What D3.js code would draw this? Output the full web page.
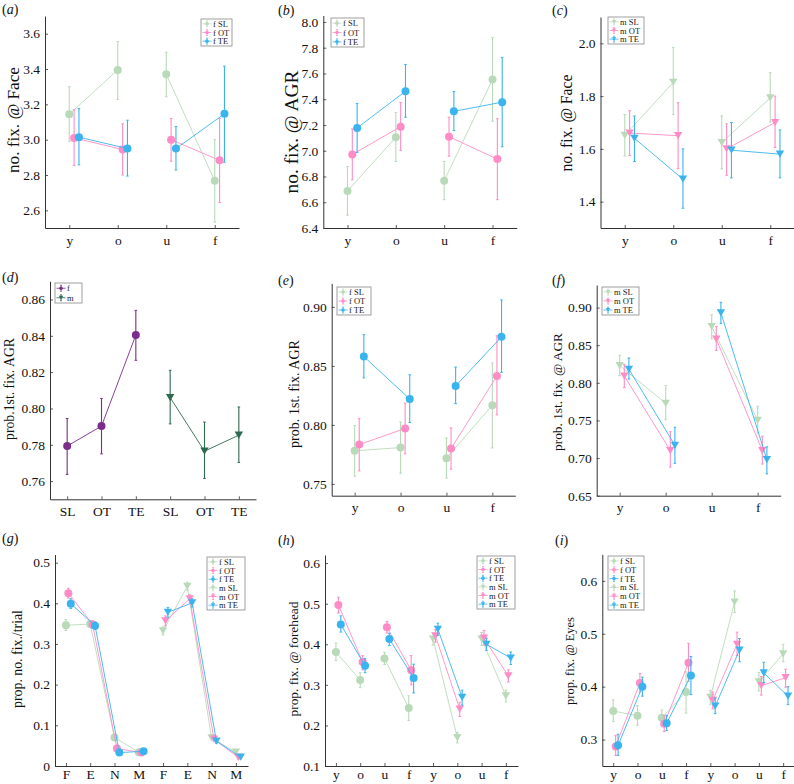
<!DOCTYPE html>
<html><head><meta charset="utf-8">
<script src="https://cdn.jsdelivr.net/npm/d3@7"></script>
<style>body{margin:0;background:#fff}svg{display:block}</style>
</head><body>
<svg id="chart" width="794" height="784"></svg>
<script>
// ---------- categories / tick labels ----------
const ageCats = ["y", "o", "u", "f"];
const grpCats = ["SL", "OT", "TE", "SL", "OT", "TE"];
const roiCats = ["F", "E", "N", "M", "F", "E", "N", "M"];
const age8Cats = ["y", "o", "u", "f", "y", "o", "u", "f"];

const aTicks = [2.6, 2.8, 3.0, 3.2, 3.4, 3.6];
const bTicks = [6.4, 6.6, 6.8, 7.0, 7.2, 7.4, 7.6, 7.8, 8.0];
const cTicks = [1.4, 1.6, 1.8, 2.0];
const dTicks = [0.76, 0.78, 0.80, 0.82, 0.84, 0.86];
const eTicks = [0.75, 0.80, 0.85, 0.90];
const fTicks = [0.65, 0.70, 0.75, 0.80, 0.85, 0.90];
const gTicks = [0, 0.1, 0.2, 0.3, 0.4, 0.5];
const hTicks = [0.1, 0.2, 0.3, 0.4, 0.5, 0.6];
const iTicks = [0.3, 0.4, 0.5, 0.6];

// ---------- values: [mean, lower, upper] ----------
const a_fSL = [[3.144, 2.99, 3.30], [3.395, 3.227, 3.556], [3.37, 3.243, 3.495], [2.767, 2.533, 3.0]];
const a_fOT = [[3.01, 2.853, 3.17], [2.944, 2.80, 3.09], [3.0, 2.878, 3.12], [2.883, 2.644, 3.12]];
const a_fTE = [[3.014, 2.857, 3.176], [2.95, 2.794, 3.11], [2.95, 2.828, 3.074], [3.146, 2.872, 3.416]];

const b_fSL = [[6.688, 6.50, 6.878], [7.104, 6.917, 7.296], [6.766, 6.62, 6.917], [7.553, 7.229, 7.878]];
const b_fOT = [[6.971, 6.774, 7.169], [7.187, 7.003, 7.374], [7.109, 6.958, 7.26], [6.935, 6.62, 7.249]];
const b_fTE = [[7.177, 6.987, 7.366], [7.462, 7.26, 7.67], [7.306, 7.156, 7.46], [7.377, 7.031, 7.725]];

const c_mSL = [[1.651, 1.573, 1.730], [1.852, 1.73, 1.985], [1.624, 1.524, 1.725], [1.793, 1.702, 1.889]];
const c_mOT = [[1.66, 1.575, 1.745], [1.65, 1.525, 1.775], [1.60, 1.50, 1.695], [1.70, 1.605, 1.80]];
const c_mTE = [[1.64, 1.552, 1.725], [1.485, 1.375, 1.60], [1.595, 1.49, 1.70], [1.58, 1.49, 1.672]];

const d_f = [[0.7793, 0.7637, 0.7945], [0.7903, 0.775, 0.8055], [0.8404, 0.8265, 0.854]];
const d_m = [[0.806, 0.7915, 0.821], [0.7765, 0.7615, 0.7925], [0.7853, 0.7703, 0.8008]];

const e_fSL = [[0.778, 0.7565, 0.7995], [0.7808, 0.759, 0.8025], [0.7718, 0.755, 0.789], [0.8167, 0.7805, 0.8525]];
const e_fOT = [[0.7833, 0.761, 0.8055], [0.797, 0.7755, 0.8185], [0.780, 0.7625, 0.7975], [0.8415, 0.8085, 0.8755]];
const e_fTE = [[0.8579, 0.8398, 0.8765], [0.822, 0.802, 0.8425], [0.833, 0.818, 0.849], [0.8746, 0.8445, 0.9059]];

const f_mSL = [[0.8229, 0.8095, 0.8365], [0.7728, 0.751, 0.7965], [0.8747, 0.8585, 0.8905], [0.7502, 0.733, 0.769]];
const f_mOT = [[0.8091, 0.7935, 0.8245], [0.710, 0.688, 0.735], [0.858, 0.843, 0.875], [0.710, 0.692, 0.729]];
const f_mTE = [[0.818, 0.805, 0.833], [0.717, 0.693, 0.741], [0.893, 0.879, 0.907], [0.698, 0.679, 0.715]];

const g_fSL = [[0.346, 0.333, 0.360], [0.349, 0.340, 0.358], [0.070, 0.064, 0.076], [0.034, 0.030, 0.038]];
const g_fOT = [[0.425, 0.413, 0.437], [0.348, 0.339, 0.357], [0.043, 0.038, 0.048], [0.033, 0.029, 0.037]];
const g_fTE = [[0.399, 0.387, 0.411], [0.345, 0.336, 0.354], [0.033, 0.029, 0.037], [0.036, 0.032, 0.040]];
const g_mSL = [[0.332, 0.322, 0.342], [0.442, 0.432, 0.452], [0.069, 0.064, 0.074], [0.034, 0.030, 0.038]];
const g_mOT = [[0.357, 0.345, 0.369], [0.411, 0.401, 0.421], [0.066, 0.061, 0.071], [0.021, 0.017, 0.025]];
const g_mTE = [[0.378, 0.366, 0.390], [0.401, 0.391, 0.411], [0.061, 0.056, 0.066], [0.022, 0.018, 0.026]];

const h_fSL = [[0.381, 0.360, 0.403], [0.312, 0.293, 0.330], [0.365, 0.350, 0.380], [0.243, 0.212, 0.273]];
const h_fOT = [[0.497, 0.477, 0.516], [0.356, 0.337, 0.372], [0.442, 0.428, 0.456], [0.336, 0.300, 0.372]];
const h_fTE = [[0.449, 0.430, 0.470], [0.347, 0.330, 0.365], [0.413, 0.397, 0.427], [0.317, 0.280, 0.351]];
const h_mSL = [[0.413, 0.398, 0.428], [0.170, 0.157, 0.183], [0.413, 0.397, 0.429], [0.273, 0.258, 0.287]];
const h_mOT = [[0.421, 0.405, 0.436], [0.240, 0.222, 0.257], [0.415, 0.398, 0.434], [0.322, 0.307, 0.337]];
const h_mTE = [[0.437, 0.422, 0.452], [0.269, 0.250, 0.287], [0.400, 0.385, 0.415], [0.366, 0.350, 0.381]];

const i_fSL = [[0.354, 0.334, 0.375], [0.345, 0.327, 0.364], [0.341, 0.328, 0.356], [0.390, 0.350, 0.428]];
const i_fOT = [[0.287, 0.270, 0.308], [0.407, 0.390, 0.425], [0.330, 0.315, 0.345], [0.445, 0.410, 0.482]];
const i_fTE = [[0.289, 0.270, 0.310], [0.400, 0.382, 0.418], [0.331, 0.317, 0.346], [0.421, 0.385, 0.457]];
const i_mSL = [[0.380, 0.366, 0.393], [0.560, 0.540, 0.581], [0.409, 0.392, 0.427], [0.462, 0.447, 0.480]];
const i_mOT = [[0.374, 0.358, 0.390], [0.480, 0.459, 0.503], [0.402, 0.384, 0.419], [0.417, 0.399, 0.433]];
const i_mTE = [[0.363, 0.349, 0.378], [0.469, 0.447, 0.491], [0.426, 0.408, 0.446], [0.382, 0.366, 0.400]];

// ---------- styles ----------
const cSL = "#b9dab9", cOT = "#ff8cc6", cTE = "#3ab4ee", cF = "#7b2d8c", cM = "#2d6a4f";
const FONT = "'Liberation Serif','Times New Roman',serif";
const AX = "#333";

const ser = (d, name, c, m, off, base, segs) => ({d, name, c, m, off, base, segs});
const pairs = [[0, 1], [2, 3]];
const all4 = [[0, 1, 2, 3]];
const all3 = [[0, 1, 2]];

const panels = [
  {tag: "a", x0: 45, x1: 239, xDom: [0.5, 4.5], yB: 228, yT: 16, yDom: [2.5, 3.7], ticks: aTicks, fmt: ".1f", cats: ageCats, xpad: 7,
   ylab: "no. fix. @ Face", lab: [19, 120, 106], tp: [2, 14], leg: [201, 19, 31, 27],
   series: [ser(a_fSL, "f SL", cSL, "c", 0, 1, pairs), ser(a_fOT, "f OT", cOT, "c", 0.1, 1, pairs), ser(a_fTE, "f TE", cTE, "c", 0.2, 1, pairs)]},
  {tag: "b", x0: 323.3, x1: 516.7, xDom: [0.5, 4.5], yB: 228, yT: 15.5, yDom: [6.4, 8.05], ticks: bTicks, fmt: ".1f", cats: ageCats, xpad: 7,
   ylab: "no. fix. @ AGR", lab: [298, 132, 123], tp: [278, 15], leg: [331, 18, 33, 29],
   series: [ser(b_fSL, "f SL", cSL, "c", 0, 1, pairs), ser(b_fOT, "f OT", cOT, "c", 0.1, 1, pairs), ser(b_fTE, "f TE", cTE, "c", 0.2, 1, pairs)]},
  {tag: "c", x0: 600.5, x1: 794.5, xDom: [0.5, 4.5], yB: 228, yT: 17, yDom: [1.3, 2.1], ticks: cTicks, fmt: ".1f", cats: ageCats, xpad: 7,
   ylab: "no. fix. @ Face", lab: [572, 123, 97], tp: [552, 15], leg: [608, 17, 36, 27],
   series: [ser(c_mSL, "m SL", cSL, "t", 0, 1, pairs), ser(c_mOT, "m OT", cOT, "t", 0.1, 1, pairs), ser(c_mTE, "m TE", cTE, "t", 0.2, 1, pairs)]},
  {tag: "d", x0: 50, x1: 256, xDom: [0.5, 6.5], yB: 499.3, yT: 281.3, yDom: [0.75, 0.87], ticks: dTicks, fmt: ".2f", cats: grpCats, xpad: 7,
   ylab: "prob.1st. fix. AGR", lab: [14, 389, 102], tp: [2, 282], leg: [55, 283, 27, 20],
   series: [ser(d_f, "f", cF, "c", 0, 1, all3), ser(d_m, "m", cM, "t", 0, 4, all3)]},
  {tag: "e", x0: 331.7, x1: 515.3, xDom: [0.5, 4.5], yB: 495.7, yT: 283.3, yDom: [0.74, 0.92], ticks: eTicks, fmt: ".2f", cats: ageCats, xpad: 7,
   ylab: "prob. 1st. fix. AGR", lab: [299, 394, 108], tp: [278, 285], leg: [337, 287, 34, 28],
   series: [ser(e_fSL, "f SL", cSL, "c", 0, 1, pairs), ser(e_fOT, "f OT", cOT, "c", 0.1, 1, pairs), ser(e_fTE, "f TE", cTE, "c", 0.2, 1, pairs)]},
  {tag: "f", x0: 596.7, x1: 780.7, xDom: [0.5, 4.5], yB: 495.7, yT: 285, yDom: [0.65, 0.93], ticks: fTicks, fmt: ".2f", cats: ageCats, xpad: 7,
   ylab: "prob. 1st. fix. @ AGR", lab: [562, 392, 118], tp: [552, 285], leg: [602, 287, 37, 28],
   series: [ser(f_mSL, "m SL", cSL, "t", 0, 1, pairs), ser(f_mOT, "m OT", cOT, "t", 0.1, 1, pairs), ser(f_mTE, "m TE", cTE, "t", 0.2, 1, pairs)]},
  {tag: "g", x0: 55, x1: 248, xDom: [0.55, 8.5], yB: 766, yT: 554.5, yDom: [0, 0.52], ticks: gTicks, fmt: "g0", cats: roiCats, xpad: 3.5,
   ylab: "prop. no. fix./trial", lab: [22, 659, 98], tp: [2, 543], leg: [207, 557, 38, 53],
   series: [ser(g_fSL, "f SL", cSL, "c", 0, 1, all4), ser(g_fOT, "f OT", cOT, "c", 0.1, 1, all4), ser(g_fTE, "f TE", cTE, "c", 0.2, 1, all4),
            ser(g_mSL, "m SL", cSL, "t", 0, 5, all4), ser(g_mOT, "m OT", cOT, "t", 0.1, 5, all4), ser(g_mTE, "m TE", cTE, "t", 0.2, 5, all4)]},
  {tag: "h", x0: 325, x1: 518, xDom: [0.55, 8.5], yB: 766, yT: 555, yDom: [0.1, 0.62], ticks: hTicks, fmt: ".1f", cats: age8Cats, xpad: 3.5,
   ylab: "prop. fix. @ forehead", lab: [298, 659, 115], tp: [278, 545], leg: [477, 556, 38, 53],
   series: [ser(h_fSL, "f SL", cSL, "c", 0, 1, pairs), ser(h_fOT, "f OT", cOT, "c", 0.1, 1, pairs), ser(h_fTE, "f TE", cTE, "c", 0.2, 1, pairs),
            ser(h_mSL, "m SL", cSL, "t", 0, 5, pairs), ser(h_mOT, "m OT", cOT, "t", 0.1, 5, pairs), ser(h_mTE, "m TE", cTE, "t", 0.2, 5, pairs)]},
  {tag: "i", x0: 602.3, x1: 795.3, xDom: [0.55, 8.5], yB: 766, yT: 554.4, yDom: [0.25, 0.65], ticks: iTicks, fmt: ".1f", cats: age8Cats, xpad: 3.5,
   ylab: "prop. fix. @ Eyes", lab: [574, 661, 88], tp: [555, 545], leg: [608, 556, 36, 54],
   series: [ser(i_fSL, "f SL", cSL, "c", 0, 1, pairs), ser(i_fOT, "f OT", cOT, "c", 0.1, 1, pairs), ser(i_fTE, "f TE", cTE, "c", 0.2, 1, pairs),
            ser(i_mSL, "m SL", cSL, "t", 0, 5, pairs), ser(i_mOT, "m OT", cOT, "t", 0.1, 5, pairs), ser(i_mTE, "m TE", cTE, "t", 0.2, 5, pairs)]}
];

const svg = d3.select("#chart");
svg.append("rect").attr("width", 794).attr("height", 784).attr("fill", "#fff");

function tri(cx, cy, w, h) {
  return `M${cx - w},${cy - h}L${cx + w},${cy - h}L${cx},${cy + h}Z`;
}
function marker(g, m, cx, cy, c, big) {
  if (m === "c") {
    g.append("circle").attr("cx", cx).attr("cy", cy).attr("r", big ? 4 : 1.8).attr("fill", c);
  } else {
    g.append("path").attr("d", big ? tri(cx, cy, 4.2, 3.6) : tri(cx, cy, 2.2, 1.9)).attr("fill", c);
  }
}

panels.forEach(p => {
  const g = svg.append("g");
  const x = d3.scaleLinear().domain(p.xDom).range([p.x0, p.x1]);
  const y = d3.scaleLinear().domain(p.yDom).range([p.yB, p.yT]);
  const fmt = p.fmt === "g0" ? (v => v === 0 ? "0" : d3.format(".1f")(v)) : d3.format(p.fmt);

  // axes
  const ya = g.append("g").attr("transform", `translate(${p.x0},0)`)
    .call(d3.axisLeft(y).tickValues(p.ticks).tickFormat(fmt).tickSize(-3).tickSizeOuter(0).tickPadding(5));
  const xa = g.append("g").attr("transform", `translate(0,${p.yB})`)
    .call(d3.axisBottom(x).tickValues(d3.range(1, p.cats.length + 1)).tickFormat(i => p.cats[i - 1]).tickSize(-3).tickSizeOuter(0).tickPadding(p.xpad));
  [ya, xa].forEach(a => {
    a.select(".domain").attr("stroke", AX).attr("stroke-width", 1);
    a.selectAll(".tick line").attr("stroke", AX).attr("stroke-width", 0.8);
    a.selectAll("text").attr("font-family", FONT).attr("font-size", 13.5).attr("fill", "#111");
  });

  // series
  p.series.forEach(s => {
    const sg = g.append("g");
    const px = i => x(s.base + i + s.off);
    const line = d3.line().x(i => px(i)).y(i => y(s.d[i][0]));
    s.segs.forEach(seg => {
      sg.append("path").attr("d", line(seg)).attr("fill", "none").attr("stroke", s.c).attr("stroke-width", 0.9);
    });
    s.d.forEach((v, i) => {
      const cx = px(i);
      sg.append("line").attr("x1", cx).attr("x2", cx).attr("y1", y(v[1])).attr("y2", y(v[2]))
        .attr("stroke", s.c).attr("stroke-width", 1.1);
      [v[1], v[2]].forEach(e => sg.append("line").attr("x1", cx - 1.3).attr("x2", cx + 1.3)
        .attr("y1", y(e)).attr("y2", y(e)).attr("stroke", s.c).attr("stroke-width", 1));
    });
    s.d.forEach((v, i) => marker(sg, s.m, px(i), y(v[0]), s.c, true));
  });

  // y label, fitted to measured span
  const [lx, ly, len] = p.lab;
  const t = g.append("text").attr("transform", `translate(${lx},${ly}) rotate(-90)`)
    .attr("text-anchor", "middle").attr("font-family", FONT).attr("font-size", 14).attr("fill", "#111").text(p.ylab);
  const L = t.node().getComputedTextLength();
  if (L > 0) t.attr("font-size", 14 * len / L);

  // panel tag
  const tg = g.append("text").attr("x", p.tp[0]).attr("y", p.tp[1]).attr("font-family", FONT).attr("font-size", 14).attr("fill", "#111");
  tg.append("tspan").text("(");
  tg.append("tspan").attr("font-style", "italic").text(p.tag);
  tg.append("tspan").text(")");

  // legend
  const [bx, by, bw, bh] = p.leg;
  const lg = g.append("g");
  lg.append("rect").attr("x", bx).attr("y", by).attr("width", bw).attr("height", bh)
    .attr("fill", "#fff").attr("stroke", "#888").attr("stroke-width", 0.8);
  const n = p.series.length, rh = (bh - 1) / n;
  p.series.forEach((s, k) => {
    const cy = by + 0.5 + rh * (k + 0.5), cx = bx + 6;
    lg.append("line").attr("x1", cx - 4.5).attr("x2", cx + 4.5).attr("y1", cy).attr("y2", cy).attr("stroke", s.c).attr("stroke-width", 0.8);
    lg.append("line").attr("x1", cx).attr("x2", cx).attr("y1", cy - 3).attr("y2", cy + 3).attr("stroke", s.c).attr("stroke-width", 0.8);
    [cy - 3, cy + 3].forEach(e => lg.append("line").attr("x1", cx - 1).attr("x2", cx + 1).attr("y1", e).attr("y2", e).attr("stroke", s.c).attr("stroke-width", 0.7));
    marker(lg, s.m, cx, cy, s.c, false);
    lg.append("text").attr("x", bx + 12).attr("y", cy + 3).attr("font-family", FONT).attr("font-size", 8.5).attr("fill", "#222").text(s.name);
  });
});
</script>
</body></html>
